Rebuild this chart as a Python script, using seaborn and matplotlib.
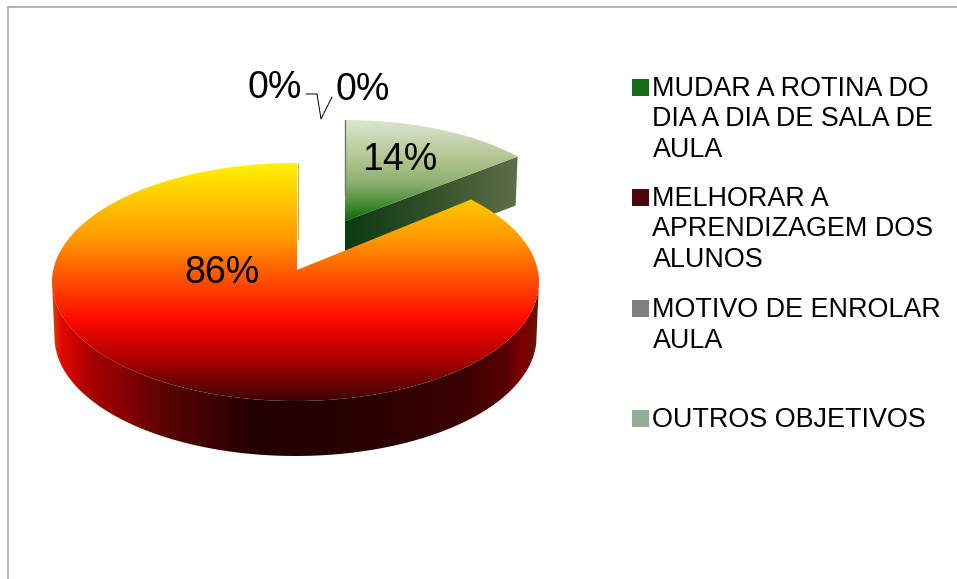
import numpy as np
import matplotlib
matplotlib.use("Agg")
import matplotlib.pyplot as plt
from matplotlib.colors import LinearSegmentedColormap
from matplotlib.patches import Polygon, Rectangle
import seaborn as sns

categories = ["MUDAR A ROTINA DO\nDIA A DIA DE SALA DE\nAULA",
              "MELHORAR A\nAPRENDIZAGEM DOS\nALUNOS",
              "MOTIVO DE ENROLAR\nAULA",
              "OUTROS OBJETIVOS"]
# order of the slices clockwise from 12 o'clock
slice_share = [14, 86, 0, 0]
legend_colors = ["#156b15", "#4d0707", "#808080", "#94ad96"]

sns.set_theme(style="white")
plt.rcParams['font.family'] = ['Liberation Sans', 'DejaVu Sans']


def ellipse_arc(a0, a1, cx, cy, rx, ry, c=0.0, n=240):
    # angles in degrees clockwise from the top, c shifts the centre for perspective
    t = np.radians(np.linspace(a0, a1, n))
    x, y = np.sin(t), np.cos(t)
    xp = x * np.sqrt(1 - c ** 2) / (1 + c * y)
    yp = (y + c) / (1 + c * y)
    return np.column_stack([cx + rx * xp, cy - ry * yp])


def grad_fill(ax, pts, stops, vertical=True, zorder=1, lims=None):
    # gradient image clipped to a polygon, lims is the range the stops span
    xmin, ymin = pts.min(axis=0)
    xmax, ymax = pts.max(axis=0)
    cmap = LinearSegmentedColormap.from_list("g", stops, N=512)
    ramp = np.linspace(0, 1, 512)
    if vertical:
        lo, hi = lims if lims else (ymin, ymax)
        arr = ramp.reshape(-1, 1)
        extent = (xmin, xmax, hi, lo)
    else:
        lo, hi = lims if lims else (xmin, xmax)
        arr = ramp.reshape(1, -1)
        extent = (lo, hi, ymax, ymin)
    im = ax.imshow(arr, cmap=cmap, extent=extent, aspect="auto", origin="upper",
                   interpolation="bilinear", vmin=0, vmax=1, zorder=zorder)
    clip = Polygon(pts, closed=True, transform=ax.transData)
    im.set_clip_path(clip)


fig = plt.figure(figsize=(9.57, 5.79), dpi=100)
ax = fig.add_axes([0, 0, 1, 1])
ax.set_axis_off()

ends = np.cumsum(slice_share) * 3.6

# exploded 14% slice, sits behind the big one
small_arc = ellipse_arc(0, ends[0], 345, 221, 224, 101)
small_apex = np.array([[345.0, 221.0]])
depth_s = np.array([-2.0, 49.0])
small_side = np.vstack([small_apex, small_arc[-1:], small_arc[-1:] + depth_s,
                        small_apex + [0.0, 49.0]])
grad_fill(ax, small_side, ["#0b3a12", "#33512a", "#5f6d4a"], vertical=False, zorder=1)
grad_fill(ax, np.vstack([small_apex, small_arc]),
          [(0, "#dbe6cf"), (0.38, "#b2c58f"), (0.62, "#8fb070"),
           (0.85, "#3f8a30"), (1, "#0c640c")], zorder=2)
ax.plot([344.6, 344.6], [120, 195], color="#6e7d60", lw=1, zorder=3)

# big 86% slice
cx, cy, rx, ry, c = 295.5, 282, 243.5, 119, 0.1
front = ellipse_arc(90, 270, cx, cy, rx, ry)
back = ellipse_arc(270, 90, cx, cy + 55, rx - 2.5, ry)
grad_fill(ax, np.vstack([front, back]),
          [(0, "#e23c00"), (0.02, "#e00800"), (0.08, "#a80000"), (0.24, "#560303"),
           (0.42, "#230000"), (0.62, "#270000"), (0.84, "#3a0000"), (0.93, "#550000"),
           (0.97, "#800000"), (0.99, "#6a1000"), (1, "#5c2000")],
          vertical=False, zorder=4)
big_arc = ellipse_arc(ends[0], ends[1], cx, cy, rx, ry, c=c)
big_apex = np.array([[297.0, 270.0]])
big_top = np.array([[297.0, 163.0]])
grad_fill(ax, np.vstack([big_apex, big_arc, big_top]),
          [(0, "#fff200"), (0.32, "#ff9800"), (0.65, "#ff0c00"),
           (0.82, "#b00000"), (1, "#3c0404")], zorder=5, lims=(163, 401))
ax.plot([297.5, 297.5], [163, 240], color="#e0b000", lw=0.8, zorder=6)

# percent labels
ax.text(400, 170, f"{slice_share[0]}%", fontsize=27, color="black", ha="center",
        va="baseline", zorder=7)
ax.text(221.5, 283, f"{slice_share[1]}%", fontsize=27, color="black", ha="center",
        va="baseline", zorder=7)
ax.text(275, 98, f"{slice_share[2]}%", fontsize=27, color="black", ha="center",
        va="baseline", zorder=7)
ax.text(362.5, 100, f"{slice_share[3]}%", fontsize=27, color="black", ha="center",
        va="baseline", zorder=7)
ax.plot([306, 317, 321, 332], [94, 94, 119, 97], color="black", lw=0.7, zorder=7)

# legend
first_baseline = [96, 206, 317, 427]
for label, col, y0 in zip(categories, legend_colors, first_baseline):
    ax.add_patch(Rectangle((632, y0 - 17), 17, 17, facecolor=col, edgecolor="none"))
    for i, line in enumerate(label.split("\n")):
        ax.text(652.5, y0 + i * 30.5, line, fontsize=19.4, color="black",
                ha="left", va="baseline")

# chart area border, only top and left show in the crop
ax.plot([7.5, 957], [7, 7], color="#a8a8a8", lw=1.2, zorder=8)
ax.plot([7.5, 7.5], [7, 579], color="#a8a8a8", lw=1.2, zorder=8)

ax.set_xlim(0, 957)
ax.set_ylim(579, 0)
fig.savefig("out.png", dpi=100, facecolor="white")
